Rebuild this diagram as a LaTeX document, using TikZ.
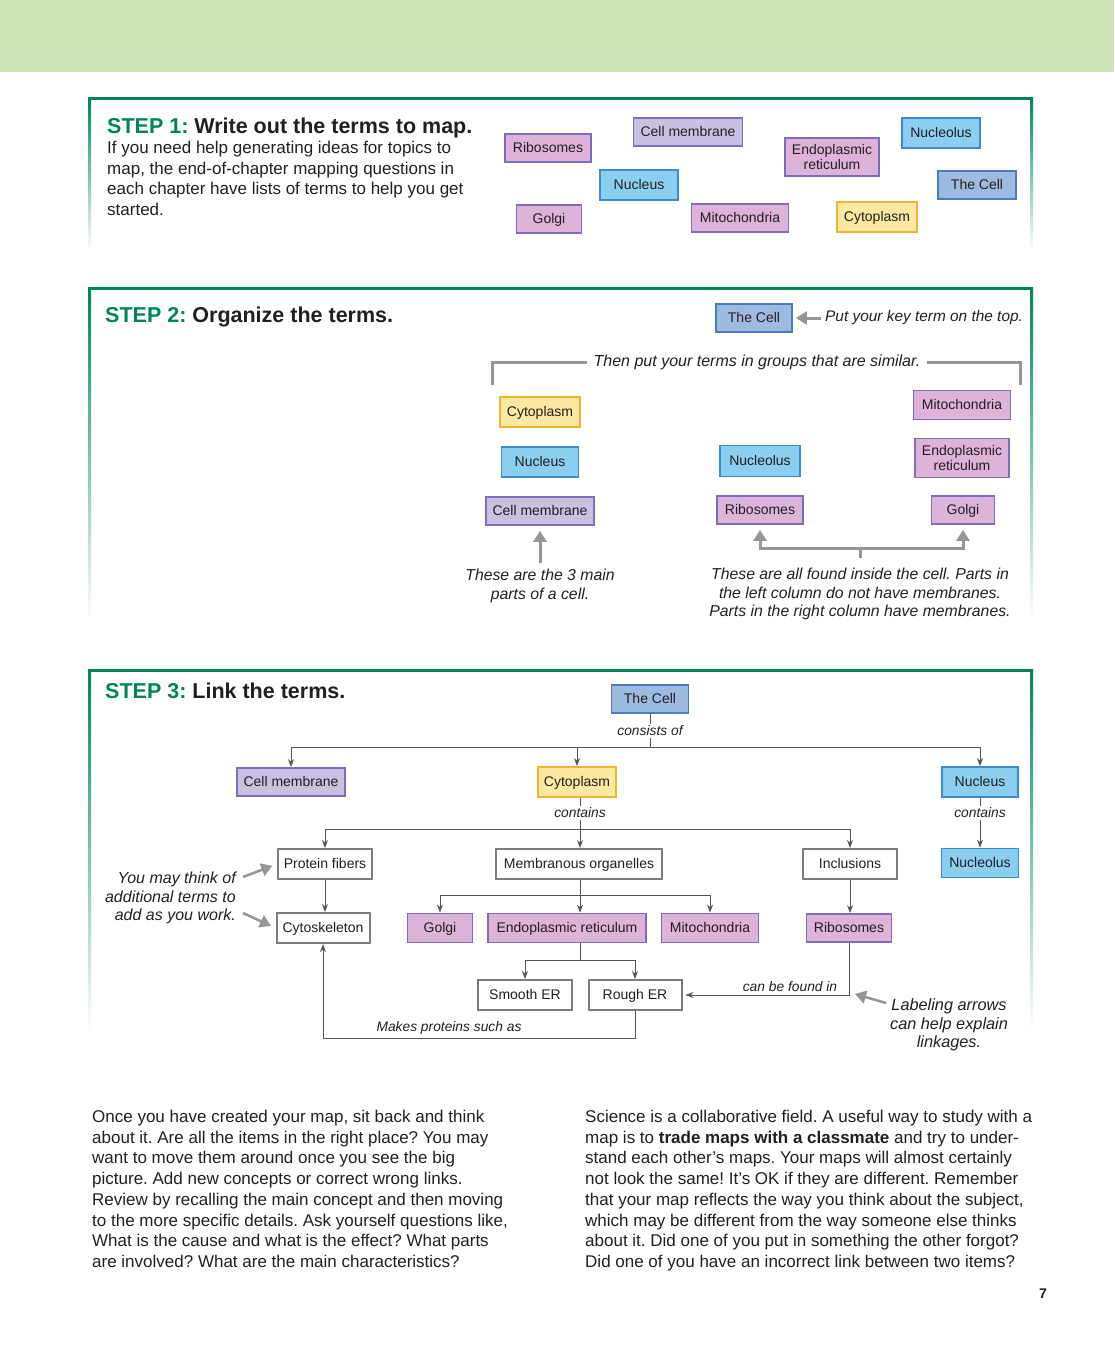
\documentclass[tikz,border=0pt]{standalone}
\usepackage{fontspec}
\setmainfont{Liberation Sans}
\usetikzlibrary{arrows.meta,calc}
\frenchspacing
\definecolor{band}{RGB}{207,229,185}
\definecolor{stepgreen}{RGB}{0,133,90}
\definecolor{pinkfill}{RGB}{221,179,217}
\definecolor{pinkdraw}{RGB}{125,110,185}
\definecolor{lavfill}{RGB}{202,192,226}
\definecolor{bluefill}{RGB}{140,206,240}
\definecolor{bluedraw}{RGB}{60,140,205}
\definecolor{cellfill}{RGB}{157,186,224}
\definecolor{celldraw}{RGB}{75,125,190}
\definecolor{yelfill}{RGB}{252,232,160}
\definecolor{yeldraw}{RGB}{240,180,50}
\definecolor{boxgray}{RGB}{125,125,125}
\definecolor{grayarrow}{RGB}{150,150,150}
\definecolor{linkgray}{RGB}{85,85,85}
\definecolor{ink}{RGB}{35,31,32}
\tikzset{
  basebox/.style={draw, line width=1.8pt, inner sep=0pt, minimum height=28pt, align=center,
    text=ink, font=\fontsize{14}{15.5}\selectfont},
  term/.style={basebox, text height=11.5pt, text depth=3pt},
  pinkb/.style={term, fill=pinkfill, draw=pinkdraw},
  erbox/.style={basebox, fill=pinkfill, draw=pinkdraw},
  lavb/.style={term, fill=lavfill, draw=pinkdraw},
  blueb/.style={term, fill=bluefill, draw=bluedraw},
  cellb/.style={term, fill=cellfill, draw=celldraw},
  yelb/.style={term, fill=yelfill, draw=yeldraw},
  whiteb/.style={term, fill=white, draw=boxgray, line width=2pt},
  heading/.style={anchor=base west, inner sep=0pt, text=ink, font=\fontsize{21.5}{25}\selectfont\bfseries},
  note/.style={inner sep=1pt, align=center, text=ink, font=\fontsize{15.8}{18.7}\selectfont\itshape},
  lab/.style={inner sep=2pt, text=ink, font=\fontsize{13.8}{16}\selectfont\itshape},
  body/.style={anchor=north west, inner sep=0pt, align=left, text=ink, font=\fontsize{17}{20.7}\selectfont},
  link/.style={draw=linkgray, line width=0.9pt},
  arr/.style={link, -{Stealth[length=8pt,width=6pt]}},
  garrow/.style={draw=grayarrow, line width=3pt, -{Triangle[length=11pt,width=13pt]}},
  gline/.style={draw=grayarrow, line width=3pt}
}
\begin{document}
\begin{tikzpicture}[x=1pt,y=-1pt]
\useasboundingbox (0,0) rectangle (1114,1346);
\fill[band] (0,0) rectangle (1114,72);
% panel frames
\foreach \ya/\yb in {97/252, 287/622, 669/1032} {
  \fill[stepgreen] (88,\ya) rectangle (1033,\ya+3);
  \shade[top color=stepgreen, bottom color=white] (88,\ya) rectangle (91,\yb);
  \shade[top color=stepgreen, bottom color=white] (1030,\ya) rectangle (1033,\yb);
}
% ---------------- STEP 1
\node[heading] (h1) at (107,133) {\textcolor{stepgreen}{STEP 1:} Write out the terms to map.};
\node[body] (b1) at (107,141) {If you need help generating ideas for topics to\\
map, the end-of-chapter mapping questions in\\
each chapter have lists of terms to help you get\\
started.};
\node[pinkb, minimum width=86] (s1rib) at (548,148) {Ribosomes};
\node[lavb, minimum width=109] (s1cm) at (688,132) {Cell membrane};
\node[erbox, minimum width=94, minimum height=38] (s1er) at (832,157) {Endoplasmic\\reticulum};
\node[blueb, minimum width=78, minimum height=30] (s1ncl) at (941,133) {Nucleolus};
\node[blueb, minimum width=78, minimum height=30] (s1nuc) at (639,185) {Nucleus};
\node[cellb, minimum width=78] (s1cell) at (977,185) {The Cell};
\node[pinkb, minimum width=65] (s1golgi) at (549,219) {Golgi};
\node[pinkb, minimum width=97] (s1mito) at (740,218) {Mitochondria};
\node[yelb, minimum width=80, minimum height=30] (s1cyt) at (877,217) {Cytoplasm};
% ---------------- STEP 2
\node[heading] (h2) at (105,322) {\textcolor{stepgreen}{STEP 2:} Organize the terms.};
\node[cellb, minimum width=76] (s2cell) at (754,318) {The Cell};
\node[note, anchor=west, font=\fontsize{15.4}{18}\selectfont\itshape] (keynote) at (824,318) {Put your key term on the top.};
\draw[garrow, shorten <=3pt, shorten >=3pt] (keynote.west) -- (s2cell.east);
\node[note, inner sep=6pt, font=\fontsize{16}{18}\selectfont\itshape] (groupnote) at (757,362) {Then put your terms in groups that are similar.};
\coordinate (brL) at (492,385);
\coordinate (brR) at (1020,385);
\draw[gline] (groupnote.west) -| (brL);
\draw[gline] (groupnote.east) -| (brR);
\node[yelb, minimum width=80, minimum height=30] (cyt2) at (540,412) {Cytoplasm};
\node[blueb, minimum width=77, minimum height=30] (nuc2) at (540,462) {Nucleus};
\node[lavb, minimum width=108] (cm2) at (540,511) {Cell membrane};
\node[blueb, minimum width=80, minimum height=31] (ncl2) at (760,461) {Nucleolus};
\node[pinkb, minimum width=86] (rib2) at (760,510) {Ribosomes};
\node[pinkb, minimum width=97, minimum height=29] (mito2) at (962,405) {Mitochondria};
\node[erbox, minimum width=94, minimum height=39] (er2) at (962,458) {Endoplasmic\\reticulum};
\node[pinkb, minimum width=63] (golgi2) at (963,510) {Golgi};
\node[note] (main3) at (540,586) {These are the 3 main\\parts of a cell.};
\draw[garrow, shorten <=5pt, shorten >=5pt] (main3.north) -- (cm2.south);
\node[note] (inside) at (860,594) {These are all found inside the cell. Parts in\\
the left column do not have membranes.\\
Parts in the right column have membranes.};
\coordinate (b2) at (860,548);
\draw[gline, {Triangle[length=11pt,width=13pt]}-{Triangle[length=11pt,width=13pt]}]
  ([yshift=-5pt]rib2.south) |- (b2) -| ([yshift=-5pt]golgi2.south);
\draw[gline] (b2) -- ++(0,10);
% ---------------- STEP 3
\node[heading] (h3) at (105,698) {\textcolor{stepgreen}{STEP 3:} Link the terms.};
\node[cellb, minimum width=77] (cell3) at (650,699) {The Cell};
\node[lab] (consists) at (650,731) {consists of};
\node[lavb, minimum width=108] (cm3) at (291,782) {Cell membrane};
\node[yelb, minimum width=78, minimum height=30] (cyt3) at (577,782) {Cytoplasm};
\node[blueb, minimum width=76, minimum height=30] (nuc3) at (980,782) {Nucleus};
\node[lab] (contains1) at (580,813) {contains};
\node[lab] (contains2) at (980,813) {contains};
\node[whiteb, minimum width=94, minimum height=30] (pf) at (325,864) {Protein fibers};
\node[whiteb, minimum width=166, minimum height=30] (mo) at (579,864) {Membranous organelles};
\node[whiteb, minimum width=94, minimum height=30] (inc) at (850,864) {Inclusions};
\node[blueb, minimum width=77, minimum height=29] (ncl3) at (980,863) {Nucleolus};
\node[whiteb, minimum width=93, minimum height=30] (cyto) at (323,928) {Cytoskeleton};
\node[pinkb, minimum width=65, minimum height=29] (golgi3) at (440,928) {Golgi};
\node[pinkb, minimum width=158, minimum height=29] (er3) at (567,928) {Endoplasmic reticulum};
\node[pinkb, minimum width=97, minimum height=29] (mito3) at (710,928) {Mitochondria};
\node[pinkb, minimum width=85] (rib3) at (849,928) {Ribosomes};
\node[whiteb, minimum width=94, minimum height=30] (ser) at (525,995) {Smooth ER};
\node[whiteb, minimum width=93, minimum height=30] (rer) at (635,995) {Rough ER};
\coordinate (j1) at (650,747);
\draw[link] (cell3.south) -- (consists.north);
\draw[link] (consists.south) -- (j1);
\draw[arr] (j1) -| (cm3.north);
\draw[arr] (j1) -| (cyt3.north);
\draw[arr] (j1) -| (nuc3.north);
\coordinate (j2) at (580,829);
\draw[link] (cyt3.south -| j2) -- (contains1.north);
\draw[link] (contains1.south) -- (j2);
\draw[arr] (j2) -| (pf.north);
\draw[arr] (j2) -- (j2 |- mo.north);
\draw[arr] (j2) -| (inc.north);
\draw[link] (nuc3.south) -- (contains2.north);
\draw[arr] (contains2.south) -- (ncl3.north);
\coordinate (j3) at (580,895);
\draw[link] (mo.south -| j3) -- (j3);
\draw[arr] (j3) -| (golgi3.north);
\draw[arr] (j3) -- (j3 |- er3.north);
\draw[arr] (j3) -| (mito3.north);
\draw[arr] (pf.south) -- (pf.south |- cyto.north);
\draw[arr] (inc.south) -- (inc.south |- rib3.north);
\coordinate (j4) at (580,960);
\draw[link] (er3.south -| j4) -- (j4);
\draw[arr] (j4) -| (ser.north);
\draw[arr] (j4) -| (rer.north);
\draw[arr, shorten >=3pt] (rib3.south) |- (rer.east);
\node[lab] (foundin) at (790,987) {can be found in};
\draw[arr] (rer.south) -- ++(0,27) -| (cyto.south);
\node[lab] (makes) at (449,1028) {Makes proteins such as};
\node[note, align=right, anchor=east, font=\fontsize{16}{18.5}\selectfont\itshape] (think) at (237,898) {You may think of\\additional terms to\\add as you work.};
\coordinate (a1) at (243,877);
\coordinate (a2) at (243,913);
\draw[garrow, line width=2.5pt, shorten >=5pt] (a1) -- (pf.west);
\draw[garrow, line width=2.5pt, shorten >=5pt] (a2) -- (cyto.west);
\node[note, font=\fontsize{16.3}{18.5}\selectfont\itshape] (labarr) at (949,1025) {Labeling arrows\\can help explain\\linkages.};
\coordinate (a3) at (886,1003);
\coordinate (a3e) at (855,994);
\draw[garrow, line width=2.5pt] (a3) -- (a3e);
% ---------------- bottom text
\node[body] (leftcol) at (92,1110) {Once you have created your map, sit back and think\\
about it. Are all the items in the right place? You may\\
want to move them around once you see the big\\
picture. Add new concepts or correct wrong links.\\
Review by recalling the main concept and then moving\\
to the more specific details. Ask yourself questions like,\\
What is the cause and what is the effect? What parts\\
are involved? What are the main characteristics?};
\node[body] (rightcol) at (585,1110) {Science is a collaborative field. A useful way to study with a\\
map is to \textbf{trade maps with a classmate} and try to under-\\
stand each other’s maps. Your maps will almost certainly\\
not look the same! It’s OK if they are different. Remember\\
that your map reflects the way you think about the subject,\\
which may be different from the way someone else thinks\\
about it. Did one of you put in something the other forgot?\\
Did one of you have an incorrect link between two items?};
\node[anchor=base, inner sep=0pt, font=\fontsize{14}{16}\selectfont\bfseries, text=ink] (pagenum) at (1043,1298) {7};
\end{tikzpicture}
\end{document}
